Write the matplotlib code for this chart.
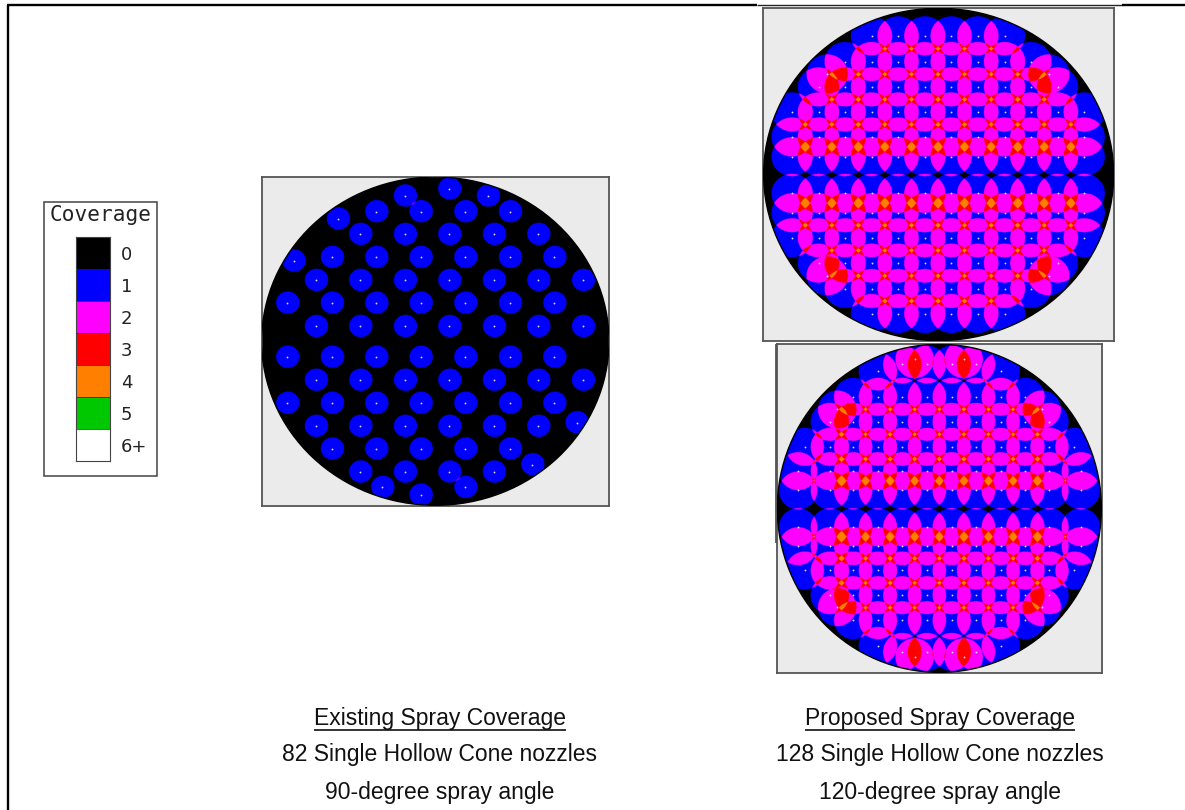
import numpy as np
import matplotlib
matplotlib.use("Agg")
import matplotlib.pyplot as plt
from matplotlib.colors import ListedColormap, BoundaryNorm
from matplotlib.patches import Ellipse, Rectangle

W, H = 1185, 810

coverage_labels = ["0", "1", "2", "3", "4", "5", "6+"]
coverage_colors = ["#000000", "#0000ff", "#ff00ff", "#ff0000", "#ff8000", "#00c800", "#ffffff"]

# nozzle plan positions, row y : column x
existing_nozzles = [
    (57, [583]), (78, [450, 699]), (125, [364, 497, 631, 765]), (147, [249]),
    (193, [316, 450, 583, 717, 850]), (262, [231, 364, 497, 631, 765, 898]), (273, [116]),
    (331, [183, 316, 450, 583, 717, 850, 984]), (399, [97, 231, 364, 497, 631, 765, 898]),
    (469, [183, 316, 450, 583, 717, 850, 984]), (561, [97, 231, 364, 497, 631, 765, 898]),
    (630, [183, 316, 450, 583, 717, 850, 984]), (699, [97, 231, 364, 497, 631, 765, 898]),
    (768, [183, 316, 450, 583, 717, 850]), (757, [965]), (836, [231, 364, 497, 631, 765]),
    (883, [832]), (905, [316, 450, 583, 717]), (951, [382, 631]), (974, [497]),
]
cols_a = [112, 191, 271, 350, 430, 510, 589, 669, 749, 828, 908, 988]
proposed_a_nozzles = [
    (108, cols_a[3:9]), (185, cols_a[2:10]), (222, [217, 882]), (261, cols_a[1:11]),
    (336, cols_a), (411, cols_a), (470, cols_a), (580, cols_a), (638, cols_a),
    (713, cols_a), (789, cols_a[1:11]), (827, [217, 882]), (865, cols_a[2:10]), (940, cols_a[3:9]),
]
cols_b = [180, 250, 324, 397, 471, 545, 618, 692, 766, 838]
proposed_b_nozzles = [
    (57, [434, 581]), (73, [397, 471, 545, 618]), (94, [324, 692]), (170, cols_b[1:9]),
    (208, [202, 815]), (245, cols_b), (320, [105] + cols_b + [913]),
    (393, [85] + cols_b + [932]), (451, [85] + cols_b + [932]),
    (561, [85] + cols_b + [932]), (618, [85] + cols_b + [932]),
    (691, [105] + cols_b + [913]), (765, cols_b), (801, [202, 815]), (840, cols_b[1:9]),
    (917, [324, 692]), (935, [397, 471, 545, 618]), (951, [434, 581]),
]

caption_left = ["Existing Spray Coverage", "82 Single Hollow Cone nozzles", "90-degree spray angle"]
caption_right = ["Proposed Spray Coverage", "128 Single Hollow Cone nozzles", "120-degree spray angle"]

fig = plt.figure(figsize=(W / 100, H / 100), dpi=100, facecolor="white")


def px_axes(x0, y0, x1, y1, zorder=1):
    return fig.add_axes([x0 / W, 1 - y1 / H, (x1 - x0) / W, (y1 - y0) / H], zorder=zorder)


page = px_axes(0, 0, W, H, zorder=0)
page.set_xlim(0, W)
page.set_ylim(H, 0)
page.axis("off")

cmap = ListedColormap(coverage_colors)
norm = BoundaryNorm(np.arange(-0.5, 7.5), 7)


def panel(box, xlim, ylim_top_bottom, dish, radii, rows, zorder=2):
    ax = px_axes(*box, zorder=zorder)
    x0, x1 = xlim
    ytop, ybot = ylim_top_bottom
    ax.set_facecolor("#ebebeb")
    nx = int((box[2] - box[0]) * 4)
    ny = int((box[3] - box[1]) * 4)
    X, Y = np.meshgrid(np.linspace(x0, x1, nx), np.linspace(ytop, ybot, ny))
    xs = np.concatenate([np.asarray(c, float) for _, c in rows])
    ys = np.concatenate([np.full(len(c), r, float) for r, c in rows])
    count = np.zeros_like(X, dtype=int)
    for px, py in zip(xs, ys):
        count += (((X - px) / radii[0]) ** 2 + ((Y - py) / radii[1]) ** 2 <= 1).astype(int)
    im = ax.imshow(np.clip(count, 0, 6), extent=(x0, x1, ybot, ytop), origin="upper", cmap=cmap, norm=norm,
                   aspect="auto", interpolation="antialiased", interpolation_stage="rgba", zorder=2)
    clip = Ellipse((dish[0], dish[1]), 2 * dish[2], 2 * dish[3], transform=ax.transData)
    im.set_clip_path(clip)
    ax.add_patch(Ellipse((dish[0], dish[1]), 2 * dish[2], 2 * dish[3], fc="none",
                         ec="#000000", lw=1.0, zorder=3))
    ax.scatter(xs, ys, s=1.8, c="#d8d8d8", linewidths=0, zorder=4)
    ax.set_xlim(x0, x1)
    ax.set_ylim(ybot, ytop)
    ax.set_xticks([])
    ax.set_yticks([])
    for s in ax.spines.values():
        s.set_color("#555555")
        s.set_linewidth(1.3)
    return ax


panel((261.7, 176.7, 609.3, 506.3), (20, 1063), (20, 1008), (541, 513, 521, 492), (35, 33.5), existing_nozzles)
panel((763.3, 8.3, 1114, 340.9), (25, 1077), (25, 1022), (551, 523, 525, 498), (62, 58.5), proposed_a_nozzles, zorder=3)
panel((777.3, 344, 1101.7, 672.7), (22, 995), (12, 998), (508, 505, 486, 492), (57.5, 57), proposed_b_nozzles, zorder=2)

# page frame lines
page.plot([7.5, 7.5], [4.5, H], color="black", lw=1.7, solid_capstyle="butt")
page.plot([6.5, 757], [4.7, 4.7], color="black", lw=1.7, solid_capstyle="butt")
page.plot([757, 1122], [4.5, 4.5], color="#222222", lw=1.0, solid_capstyle="butt")
page.plot([1122, W], [4.7, 4.7], color="black", lw=1.7, solid_capstyle="butt")
page.plot([775.6, 775.6], [343.5, 542.5], color="#444444", lw=1.2, solid_capstyle="butt", zorder=5)

# legend
page.add_patch(Rectangle((44.3, 201.7), 112.4, 274, fc="white", ec="#444444", lw=1.1))
page.text(100.5, 215, "Coverage", family="DejaVu Sans Mono", fontsize=15.2, color="#222222",
          ha="center", va="center")
leg = px_axes(75.7, 236.7, 109.7, 461, zorder=2)
leg.bar(0.5, 1, width=1, bottom=np.arange(7), color=coverage_colors, edgecolor="none")
leg.hlines(np.arange(1, 7), 0, 1, color="#222222", lw=0.5)
leg.set_xlim(0, 1)
leg.set_ylim(7, 0)
leg.set_xticks([])
leg.yaxis.tick_right()
leg.set_yticks(np.arange(7) + 0.5)
leg.set_yticklabels(coverage_labels, fontsize=13, color="#222222", family="DejaVu Sans")
leg.tick_params(axis="y", length=0, pad=8)
for s in leg.spines.values():
    s.set_color("#444444")
    s.set_linewidth(0.8)

# captions
FS = 16.5
ROWS = [718, 754, 793]
for cx, lines in ((439.5, caption_left), (940, caption_right)):
    for i, (t, y) in enumerate(zip(lines, ROWS)):
        txt = page.text(cx, y, t, family="Liberation Sans", fontsize=FS, color="#111111",
                        ha="center", va="center")
        if i == 0:
            fig.canvas.draw()
            bb = txt.get_window_extent()
            page.plot([bb.x0, bb.x1], [729.5, 729.5], color="#111111", lw=1.2, solid_capstyle="butt")

fig.savefig("out.png", dpi=100)
